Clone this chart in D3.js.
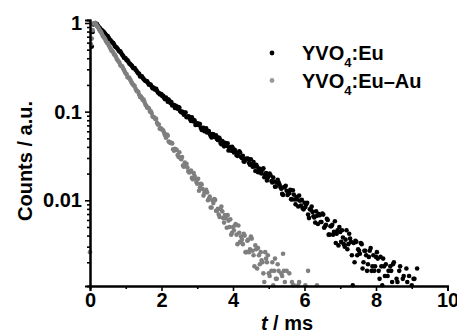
<!DOCTYPE html>
<html>
<head>
<meta charset="utf-8">
<script src="https://cdn.jsdelivr.net/npm/d3@7"></script>
<style>
  html, body { margin: 0; padding: 0; background: #fff; }
  svg { display: block; }
  text { font-family: "Liberation Sans", Arial, sans-serif; font-weight: bold; fill: #000; }
</style>
</head>
<body>
<svg id="chart" width="457" height="334"></svg>
<script>
// Luminescence decay curves, photon counts per 0.025 ms bin
const sampleStep = 0.025;         // ms
const euStart = 0.05;             // ms, first bin of YVO4:Eu
const euAuStart = 0.0;            // ms, first bin of YVO4:Eu-Au

const euCounts = [
  5414, 7900, 9634, 9920, 10000, 9760, 9629, 9240, 8956, 8790,
  8419, 8330, 8142, 7930, 7792, 7500, 7289, 7150, 7094, 6740,
  6487, 6390, 6181, 6010, 5937, 5700, 5430, 5360, 5254, 5090,
  4878, 4770, 4783, 4540, 4387, 4260, 4048, 4050, 3958, 3800,
  3794, 3640, 3486, 3430, 3354, 3280, 3117, 3090, 3105, 2960,
  2891, 2780, 2698, 2670, 2494, 2510, 2505, 2400, 2335, 2270,
  2220, 2200, 2203, 2090, 2011, 2030, 2003, 1920, 1831, 1865,
  1823, 1765, 1807, 1720, 1644, 1620, 1566, 1585, 1571, 1490,
  1509, 1433, 1383, 1442, 1383, 1294, 1371, 1307, 1250, 1280,
  1172, 1195, 1187, 1100, 1167, 1135, 1081, 1124, 1108, 1008,
  986, 999, 971, 925, 975, 977, 867, 877, 888, 876,
  820, 786, 862, 805, 776, 796, 708, 713, 739, 708,
  730, 723, 655, 622, 653, 655, 601, 625, 648, 583,
  600, 604, 558, 531, 510, 560, 556, 517, 517, 541,
  491, 478, 510, 499, 443, 428, 465, 448, 406, 446,
  424, 409, 438, 365, 381, 398, 363, 402, 384, 346,
  370, 351, 323, 317, 337, 358, 346, 308, 299, 317,
  274, 273, 293, 292, 295, 294, 264, 252, 290, 255,
  239, 270, 241, 214, 252, 239, 207, 226, 226, 205,
  201, 221, 230, 182, 195, 203, 167, 181, 190, 200,
  192, 165, 159, 181, 163, 142, 143, 159, 170, 160,
  151, 141, 135, 118, 115, 140, 142, 146, 128, 115,
  119, 120, 131, 103, 102, 130, 116, 102, 90, 109,
  102, 85, 113, 99, 87, 101, 81, 79, 94, 84,
  90, 94, 69, 63, 79, 79, 85, 74, 66, 64,
  56, 75, 67, 54, 70, 68, 57, 57, 71, 69,
  49, 51, 53, 62, 60, 41, 41, 51, 51, 53,
  41, 44, 58, 33, 42, 46, 31, 50, 44, 34,
  46, 38, 32, 30, 36, 46, 28, 32, 42, 37,
  34, 24, 11, 33, 20, 35, 34, 24, 28, 27,
  25, 33, 32, 17, 20, 27, 27, 24, 16, 19,
  23, 27, 29, 16, 18, 24, 16, 18, 23, 26,
  22, 16, 13, 23, 18, 11, 22, 18, 14, 19,
  10, 14, 16, 8, 18, 16, 12, 19, 20, 10,
  10, 13, 12, 9, 16, 18, 7, 10, 13, 14,
  9, 7, 17, 12, 10, 14, 5, 7, 11, 9,
  13, 13, 7, 4, 17, 10, 5
];

const euAuCounts = [
  26, 5800, 6666, 8300, 9830, 9940, 10000, 9600, 9163, 8920,
  8536, 8190, 8010, 7650, 7206, 6990, 6809, 6550, 6205, 5990,
  5934, 5610, 5362, 5130, 4865, 4830, 4658, 4420, 4359, 4150,
  3920, 3800, 3681, 3570, 3344, 3265, 3250, 3070, 2957, 2805,
  2696, 2645, 2441, 2425, 2402, 2285, 2193, 2095, 2020, 1975,
  1947, 1810, 1716, 1710, 1663, 1560, 1465, 1478, 1421, 1350,
  1372, 1280, 1200, 1165, 1105, 1108, 1085, 1005, 1007, 957,
  880, 869, 857, 828, 828, 750, 717, 716, 643, 648,
  639, 620, 613, 573, 542, 507, 551, 536, 459, 453,
  442, 446, 438, 376, 362, 382, 371, 370, 324, 309,
  348, 301, 291, 307, 247, 239, 266, 255, 258, 234,
  212, 206, 209, 216, 179, 173, 203, 188, 176, 161,
  154, 175, 128, 139, 153, 151, 134, 113, 122, 124,
  131, 123, 100, 104, 110, 83, 83, 100, 93, 103,
  101, 76, 76, 80, 69, 65, 80, 85, 75, 63,
  56, 68, 63, 49, 68, 59, 50, 61, 41, 43,
  50, 46, 52, 54, 41, 32, 52, 43, 34, 39,
  36, 32, 42, 40, 26, 26, 35, 36, 26, 28,
  39, 37, 27, 24, 18, 31, 28, 17, 29, 24,
  19, 26, 21, 20, 15, 12, 26, 22, 20, 24,
  15, 14, 9, 16, 20, 11, 16, 22, 13, 13,
  19, 16, 10, 8, 15, 14, 25, 16, 12, 8,
  16, 10, 9, 15, 7, 5, 12, 11, 11, 9,
  6, 6, 9, 11, 12, 4, 6, 9, 3, 6,
  7, 11, 9, 5, 16, 9, 10, 2, 4, 6,
  5, 7, 8, 5, 11, 1, 6
];

const xMajorTicks = [0, 2, 4, 6, 8, 10];
const xMinorTicks = [1, 3, 5, 7, 9];
const yMajorTicks = [0.01, 0.1, 1];
const yMinorTicks = [0.002, 0.003, 0.004, 0.005, 0.006, 0.007, 0.008, 0.009,
                     0.02, 0.03, 0.04, 0.05, 0.06, 0.07, 0.08, 0.09,
                     0.2, 0.3, 0.4, 0.5, 0.6, 0.7, 0.8, 0.9];

const series = [
  { base: "YVO", sub: "4", rest: ":Eu", start: euStart, counts: euCounts, color: "#000000", key: "#000000" },
  { base: "YVO", sub: "4", rest: ":Eu–Au", start: euAuStart, counts: euAuCounts, color: "#7f7f7f", key: "#999999" }
];

const svg = d3.select("#chart");
const plotLeft = 90, plotRight = 447.5, plotTop = 20, plotBottom = 286;

const x = d3.scaleLinear().domain([0, 10]).range([plotLeft, plotRight]);
const y = d3.scaleLog().domain([0.00108, 1.08]).range([plotBottom, plotTop]);

// normalised points inside the visible window
series.forEach(s => {
  const peak = d3.max(s.counts);
  s.points = s.counts.map((c, i) => ({ t: s.start + i * sampleStep, v: c / peak }))
    .filter(p => p.v >= y.domain()[0] && p.v <= y.domain()[1] && p.t <= x.domain()[1]);
});

// markers
series.forEach(s => {
  svg.append("g")
    .attr("fill", s.color)
    .selectAll("circle")
    .data(s.points)
    .join("circle")
    .attr("cx", d => x(d.t))
    .attr("cy", d => y(d.v))
    .attr("r", 2.3);
});

// axes
const fmt = d => (d >= 1 ? "1" : d >= 0.1 ? "0.1" : "0.01");

function styleAxis(g) {
  g.select(".domain").attr("stroke", "#000").attr("stroke-width", 2);
  g.selectAll(".tick line").attr("stroke", "#000").attr("stroke-width", 1.6);
  g.selectAll(".tick text").style("font-size", "20px").attr("fill", "#000");
}

svg.append("g")
  .attr("transform", `translate(0,${plotBottom})`)
  .call(d3.axisBottom(x).tickValues(xMinorTicks).tickSize(3).tickFormat(""))
  .call(styleAxis);
svg.append("g")
  .attr("transform", `translate(0,${plotBottom})`)
  .call(d3.axisBottom(x).tickValues(xMajorTicks).tickSize(5).tickPadding(2).tickFormat(d3.format("d")))
  .call(styleAxis);

svg.append("g")
  .attr("transform", `translate(${plotLeft},0)`)
  .call(d3.axisLeft(y).tickValues(yMinorTicks).tickSize(3).tickFormat(""))
  .call(styleAxis);
svg.append("g")
  .attr("transform", `translate(${plotLeft},0)`)
  .call(d3.axisLeft(y).tickValues(yMajorTicks).tickSize(5).tickPadding(3).tickFormat(fmt))
  .call(styleAxis);

// axis titles
const xt = svg.append("text")
  .attr("x", 287)
  .attr("y", 330)
  .attr("text-anchor", "middle")
  .style("font-size", "20px");
xt.append("tspan").style("font-style", "italic").text("t");
xt.append("tspan").text(" / ms");

svg.append("text")
  .attr("transform", `translate(32,161) rotate(-90)`)
  .attr("text-anchor", "middle")
  .style("font-size", "20px")
  .text("Counts / a.u.");

// legend
const legend = svg.append("g");
series.forEach((s, i) => {
  const cy = 53 + i * 27.5;
  legend.append("circle")
    .attr("cx", 272).attr("cy", cy).attr("r", 2.4)
    .attr("fill", s.key);
  const t = legend.append("text")
    .attr("x", 302).attr("y", cy + 7)
    .style("font-size", "20px");
  t.append("tspan").text(s.base);
  t.append("tspan").attr("dy", 7).style("font-size", "13px").text(s.sub);
  t.append("tspan").attr("dy", -7).text(s.rest);
});
</script>
</body>
</html>
